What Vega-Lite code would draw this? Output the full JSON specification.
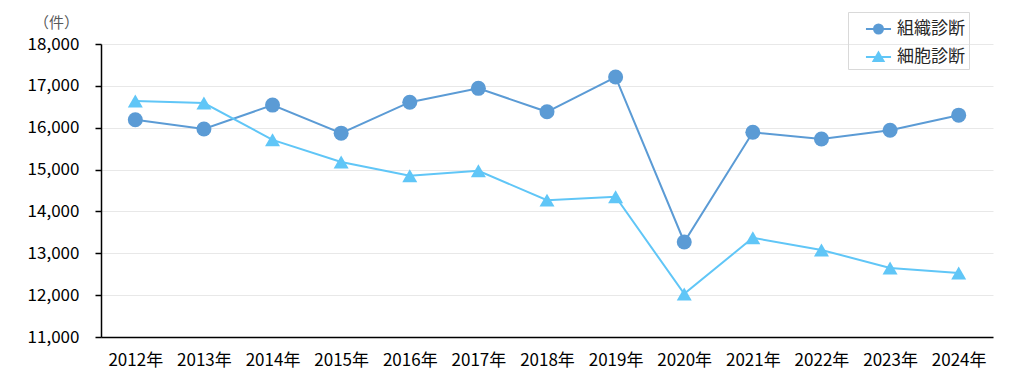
{
  "$schema": "https://vega.github.io/schema/vega-lite/v6.json",
  "width": 892,
  "height": 293,
  "autosize": {"type": "none"},
  "padding": {"left": 101, "top": 44, "right": 41, "bottom": 54},
  "background": "white",
  "config": {"font": "Noto Sans CJK JP", "view": {"stroke": null}},
  "data": {
    "values": [
      {"year": "2012年", "series": "組織診断", "value": 16190},
      {"year": "2013年", "series": "組織診断", "value": 15970},
      {"year": "2014年", "series": "組織診断", "value": 16540},
      {"year": "2015年", "series": "組織診断", "value": 15870},
      {"year": "2016年", "series": "組織診断", "value": 16610},
      {"year": "2017年", "series": "組織診断", "value": 16940},
      {"year": "2018年", "series": "組織診断", "value": 16380},
      {"year": "2019年", "series": "組織診断", "value": 17210},
      {"year": "2020年", "series": "組織診断", "value": 13270},
      {"year": "2021年", "series": "組織診断", "value": 15890},
      {"year": "2022年", "series": "組織診断", "value": 15730},
      {"year": "2023年", "series": "組織診断", "value": 15940},
      {"year": "2024年", "series": "組織診断", "value": 16300},
      {"year": "2012年", "series": "細胞診断", "value": 16640},
      {"year": "2013年", "series": "細胞診断", "value": 16590},
      {"year": "2014年", "series": "細胞診断", "value": 15710},
      {"year": "2015年", "series": "細胞診断", "value": 15180},
      {"year": "2016年", "series": "細胞診断", "value": 14850},
      {"year": "2017年", "series": "細胞診断", "value": 14970},
      {"year": "2018年", "series": "細胞診断", "value": 14270},
      {"year": "2019年", "series": "細胞診断", "value": 14350},
      {"year": "2020年", "series": "細胞診断", "value": 12030},
      {"year": "2021年", "series": "細胞診断", "value": 13370},
      {"year": "2022年", "series": "細胞診断", "value": 13080},
      {"year": "2023年", "series": "細胞診断", "value": 12650},
      {"year": "2024年", "series": "細胞診断", "value": 12530}
    ]
  },
  "encoding": {
    "x": {
      "field": "year", "type": "ordinal", "sort": null,
      "axis": {
        "title": null, "labelAngle": 0, "ticks": false, "grid": false,
        "domainColor": "#000000", "domainWidth": 1.5,
        "labelFontSize": 17, "labelColor": "#000000", "labelPadding": 15
      }
    },
    "y": {
      "field": "value", "type": "quantitative",
      "scale": {"domain": [11000, 18000], "nice": false, "zero": false},
      "axis": {
        "values": [11000, 12000, 13000, 14000, 15000, 16000, 17000, 18000],
        "format": ",.0f",
        "title": "（件）", "titleAngle": 0, "titleX": -45, "titleY": -22,
        "titleAlign": "center", "titleBaseline": "middle",
        "titleFontSize": 15, "titleFontWeight": "normal", "titleColor": "#595959",
        "tickSize": 6, "tickColor": "#000000", "tickWidth": 1.5,
        "domainColor": "#000000", "domainWidth": 1.5,
        "labelFontSize": 17, "labelColor": "#000000", "labelPadding": 16,
        "gridColor": "#e8e8e8", "gridWidth": 1
      }
    },
    "color": {
      "field": "series", "type": "nominal",
      "scale": {"domain": ["組織診断", "細胞診断"], "range": ["#5B9BD5", "#60C6F7"]},
      "legend": {
        "title": null, "orient": "none", "legendX": 747, "legendY": -32,
        "strokeColor": "#d9d9d9", "padding": 4, "rowPadding": 6,
        "symbolSize": 576, "labelOffset": 19, "labelLimit": 300,
        "labelFontSize": 17, "labelColor": "#262626",
        "encode": {
          "symbols": {
            "update": {
              "shape": {"signal": "datum.value === '組織診断' ? 'M0.08,0H2.17M1.5,0A0.375,0.375,0,1,1,0.75,0A0.375,0.375,0,1,1,1.5,0Z' : 'M0.08,0H2.17M1.125,-0.38L1.54,0.33L0.71,0.33Z'"},
              "fill": {"scale": "color", "field": "value"},
              "stroke": {"scale": "color", "field": "value"},
              "strokeWidth": {"value": 2},
              "opacity": {"value": 1},
              "fillOpacity": {"value": 1},
              "strokeOpacity": {"value": 1}
            }
          }
        }
      }
    }
  },
  "layer": [
    {"mark": {"type": "line", "strokeWidth": 2}},
    {
      "transform": [{"filter": "datum.series === '組織診断'"}],
      "mark": {"type": "point", "shape": "circle", "filled": true, "opacity": 1, "size": 225}
    },
    {
      "transform": [{"filter": "datum.series === '細胞診断'"}],
      "mark": {"type": "point", "shape": "triangle-up", "filled": true, "opacity": 1, "size": 225}
    }
  ]
}
